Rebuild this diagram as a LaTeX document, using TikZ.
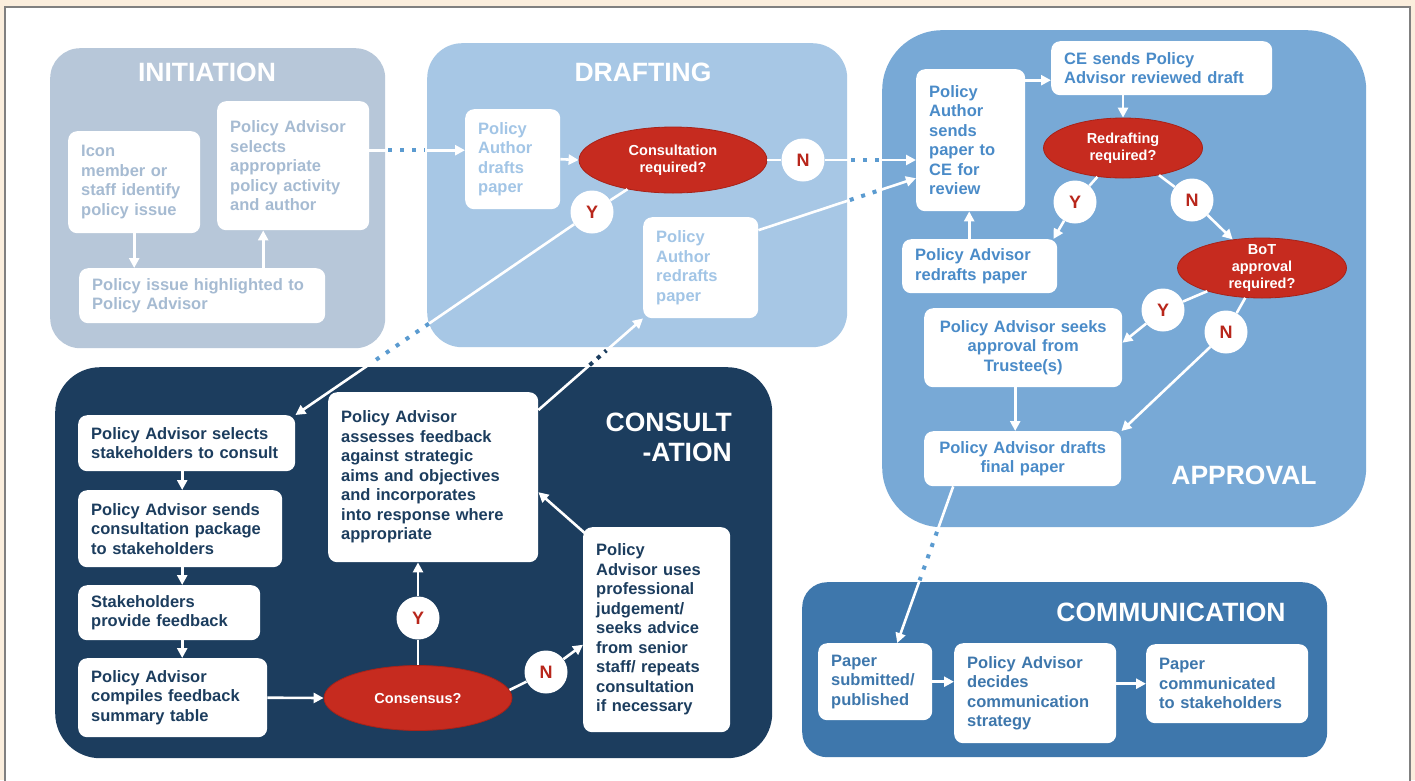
\documentclass[tikz,border=0pt]{standalone}
\usepackage{fontspec}
\setmainfont{Liberation Sans}
\usetikzlibrary{arrows.meta,calc,shapes.geometric}
\definecolor{cBg}{HTML}{FBEEDD}
\definecolor{cFrame}{HTML}{808080}
\definecolor{cInit}{HTML}{B7C7D9}
\definecolor{cInitT}{HTML}{A6BBD2}
\definecolor{cDraft}{HTML}{A7C7E5}
\definecolor{cDraftT}{HTML}{A2C5E6}
\definecolor{cAppr}{HTML}{78A9D6}
\definecolor{cApprT}{HTML}{4A8BC8}
\definecolor{cCons}{HTML}{1C3D5E}
\definecolor{cComm}{HTML}{3E77AC}
\definecolor{cRed}{HTML}{C62B1F}
\definecolor{cRedE}{HTML}{A82218}
\definecolor{cRedT}{HTML}{B8261B}
\definecolor{cDot}{HTML}{5B9BD0}
\newcommand{\bodyfont}{\fontsize{16.5}{19.5}\selectfont\bfseries}
\newcommand{\titlefont}{\fontsize{26.5}{30}\selectfont\bfseries}
\tikzset{
  panel/.style={anchor=north west, inner sep=0pt, draw=none},
  ptitle/.style={text=white, font=\titlefont, inner sep=0pt},
  pbox/.style 2 args={anchor=north west, fill=white, rounded corners=9pt,
    inner xsep=13pt, inner ysep=0pt, minimum width=#1, minimum height=#2,
    text width=#1-26pt, align=left, font=\bodyfont},
  decn/.style 2 args={ellipse, fill=cRed, draw=cRedE, line width=0.8pt,
    minimum width=#1, minimum height=#2,
    inner sep=0pt, text=white, align=center,
    font=\fontsize{14.5}{17}\selectfont\bfseries},
  etext/.style={text=white, align=center, inner sep=0pt,
    font=\fontsize{14.5}{17}\selectfont\bfseries},
  yn/.style={circle, fill=white, minimum size=43pt, inner sep=0pt, text=cRedT,
    font=\fontsize{18}{18}\selectfont\bfseries},
  conn/.style={draw=white, line width=2.6pt},
  conna/.style={conn, -{Triangle[length=10pt,width=10pt]}},
  dotsb/.style={draw=cDot, line width=4pt, dash pattern=on 4pt off 8pt},
  dotsd/.style={draw=cCons, line width=4pt, dash pattern=on 4pt off 6pt},
}
\begin{document}
\begin{tikzpicture}[x=1pt,y=-1pt]
\useasboundingbox (0,0) rectangle (1415,780);
\fill[cBg] (0,0) rectangle (1415,780);
\clip (0,0) rectangle (1415,780);
\draw[fill=white, draw=cFrame, line width=1.5pt] (5,7) rectangle (1410,800);

% panels
\node[panel, fill=cInit, rounded corners=30pt, minimum width=335, minimum height=300] (pinit) at (50,48) {};
\node[panel, fill=cDraft, rounded corners=35pt, minimum width=420, minimum height=304] (pdraft) at (427,43) {};
\node[panel, fill=cAppr, rounded corners=60pt, minimum width=484, minimum height=497] (pappr) at (882,30) {};
\node[panel, fill=cCons, rounded corners=45pt, minimum width=717, minimum height=391] (pcons) at (55,367) {};
\node[panel, fill=cComm, rounded corners=25pt, minimum width=525, minimum height=175] (pcomm) at (802,582) {};

% titles
\node[ptitle] (tinit) at (207,72) {INITIATION};
\node[ptitle] (tdraft) at (643,72) {DRAFTING};
\node[ptitle] (tappr) at (1244,475) {APPROVAL};
\node[ptitle, anchor=east, align=right] (tcons) at (732,437) {CONSULT\\-ATION};
\node[ptitle] (tcomm) at (1171,612) {COMMUNICATION};

% initiation boxes
\node[pbox={132}{102}, text=cInitT] (icon) at (68,131) {Icon\\member or\\staff identify\\policy issue};
\node[pbox={152}{129}, text=cInitT] (sel) at (217,101) {Policy Advisor\\selects\\appropriate\\policy activity\\and author};
\node[pbox={246}{55}, text=cInitT] (hl) at (79,268) {Policy issue highlighted to\\Policy Advisor};

% drafting
\node[pbox={95}{100}, text=cDraftT] (dr) at (465,109) {Policy\\Author\\drafts\\paper};
\node[pbox={115}{101}, text=cDraftT] (rd) at (643,217) {Policy\\Author\\redrafts\\paper};
\node[decn={188}{66}] (cons) at (673,160) {Consultation\\required?};
\node[yn] (Y1) at (592,212) {Y};
\node[yn] (N1) at (803,160) {N};

% approval
\node[pbox={109}{142}, text=cApprT] (psend) at (916,69) {Policy\\Author\\sends\\paper to\\CE for\\review};
\node[pbox={221}{54}, text=cApprT] (ce) at (1051,41) {CE sends Policy\\Advisor reviewed draft};
\node[pbox={155}{54}, text=cApprT] (par) at (902,239) {Policy Advisor\\redrafts paper};
\node[pbox={198}{79}, text=cApprT, align=center] (seeks) at (924,308) {Policy Advisor seeks\\approval from\\Trustee(s)};
\node[pbox={197}{55}, text=cApprT, align=center] (final) at (924,431) {Policy Advisor drafts\\final paper};
\node[decn={159}{60}] (redr) at (1123,148) {Redrafting\\required?};
\node[decn={169}{60}] (bot) at (1262,268) {};
\node[etext] (bottxt) at (bot.center) {BoT\\approval\\required?};
\node[yn] (Ya) at (1075,202) {Y};
\node[yn] (Na) at (1192,200) {N};
\node[yn] (Yb) at (1163,310) {Y};
\node[yn] (Nb) at (1226,332) {N};

% consultation
\node[pbox={217}{56}, text=cCons] (stake) at (78,415) {Policy Advisor selects\\stakeholders to consult};
\node[pbox={204}{77}, text=cCons] (sends) at (78,490) {Policy Advisor sends\\consultation package\\to stakeholders};
\node[pbox={182}{55}, text=cCons] (prov) at (78,585) {Stakeholders\\provide feedback};
\node[pbox={189}{79}, text=cCons] (comp) at (78,658) {Policy Advisor\\compiles feedback\\summary table};
\node[pbox={210}{170}, text=cCons] (assess) at (328,392) {Policy Advisor\\assesses feedback\\against strategic\\aims and objectives\\and incorporates\\into response where\\appropriate};
\node[pbox={147}{205}, text=cCons] (uses) at (583,527) {Policy\\Advisor uses\\professional\\judgement/\\seeks advice\\from senior\\staff/ repeats\\consultation\\if necessary};
\node[decn={188}{65}] (cons2) at (418,698) {Consensus?};
\node[yn] (Y3) at (418,618) {Y};
\node[yn] (N3) at (546,672) {N};

% communication
\node[pbox={114}{77}, text=cComm] (paper) at (818,643) {Paper\\submitted/\\published};
\node[pbox={162}{100}, text=cComm] (dec) at (954,643) {Policy Advisor\\decides\\communication\\strategy};
\node[pbox={162}{79}, text=cComm] (comm) at (1146,644) {Paper\\communicated\\to stakeholders};

% connectors: initiation
\draw[conna] (icon.south) -- (icon.south |- hl.north);
\draw[conna] ([xshift=-30pt]sel.south |- hl.north) -- ([xshift=-30pt]sel.south);
\draw[conna] ([yshift=15.5pt]sel.east) -- ([yshift=15.5pt]sel.east -| dr.west);
\draw[dotsb] ([yshift=15.5pt]sel.east -| pinit.east) ++(3,0) -- ([yshift=15.5pt,xshift=-2pt]sel.east -| pdraft.west);

% drafting
\draw[conna] (dr.east) -- (cons.west);
\draw[conn] (cons) -- (Y1);
\draw[conna] (Y1) -- (stake.north east);
\draw[dotsb] ($(Y1)!0.55!(stake.north east)$) -- ($(Y1)!0.75!(stake.north east)$);
\draw[conn] (cons.east) -- (N1);
\draw[conna] (N1) -- (N1 -| psend.west);
\draw[dotsb] ([xshift=4pt]N1 -| pdraft.east) -- ([xshift=-2pt]N1 -| pappr.west);
\draw[conna] ([yshift=37.5pt]rd.east) -- ([yshift=-38pt]psend.west);
\draw[dotsb] ($([yshift=37.5pt]rd.east)!0.58!([yshift=-38pt]psend.west)$) -- ($([yshift=37.5pt]rd.east)!0.77!([yshift=-38pt]psend.west)$);

% consultation
\coordinate (cx) at ([xshift=-4.5pt]stake.south);
\draw[conna] (cx) -- (cx |- sends.north);
\draw[conna] (cx |- sends.south) -- (cx |- prov.north);
\draw[conna] (cx |- prov.south) -- (cx |- comp.north);
\draw[conna] (comp.east) -- (cons2.west);
\draw[conn] (cons2.north) -- (Y3);
\draw[conna] (Y3) -- (Y3 |- assess.south);
\draw[conn] (cons2.5) -- (N3);
\draw[conna] (N3) -- ([yshift=-15pt]uses.west);
\draw[conna] ([xshift=4pt,yshift=-8pt]uses.north west) -- ([yshift=-15pt]assess.east);
\draw[conna] ([yshift=-18pt]assess.north east) -- (rd.south west);
\draw[dotsd] ($([yshift=-18pt]assess.north east)!0.49!(rd.south west)$) -- ($([yshift=-18pt]assess.north east)!0.65!(rd.south west)$);

% approval
\draw[conna] ([yshift=-12pt]ce.west -| psend.east) -- ([yshift=-12pt]ce.west);
\draw[conna] (redr.north |- ce.south) -- (redr.north);
\draw[conn] (redr) -- (Ya);
\draw[conna] (Ya) -- ([xshift=-4pt]par.north east);
\draw[conna] ([xshift=-10.5pt]par.north) -- ([xshift=-10.5pt]par.north |- psend.south);
\draw[conn] (redr) -- (Na);
\draw[conna] (Na) -- (bot);
\draw[conn] (bot) -- (Yb);
\draw[conna] (Yb) -- ([yshift=5pt]seeks.east);
\draw[conn] (bot) -- (Nb);
\draw[conna] (Nb) -- (final.north east);
\draw[conna] ([xshift=-8pt]seeks.south) -- ([xshift=-8pt]seeks.south |- final.north);
\draw[conna] ([xshift=-69.5pt]final.south) -- ([xshift=22pt]paper.north);
\draw[dotsb] ($([xshift=-69.5pt]final.south)!0.29!([xshift=22pt]paper.north)$) -- ($([xshift=-69.5pt]final.south)!0.6!([xshift=22pt]paper.north)$);

% communication
\draw[conna] (paper.east) -- (paper.east -| dec.west);
\draw[conna] (comm.west -| dec.east) -- (comm.west);
\end{tikzpicture}
\end{document}
